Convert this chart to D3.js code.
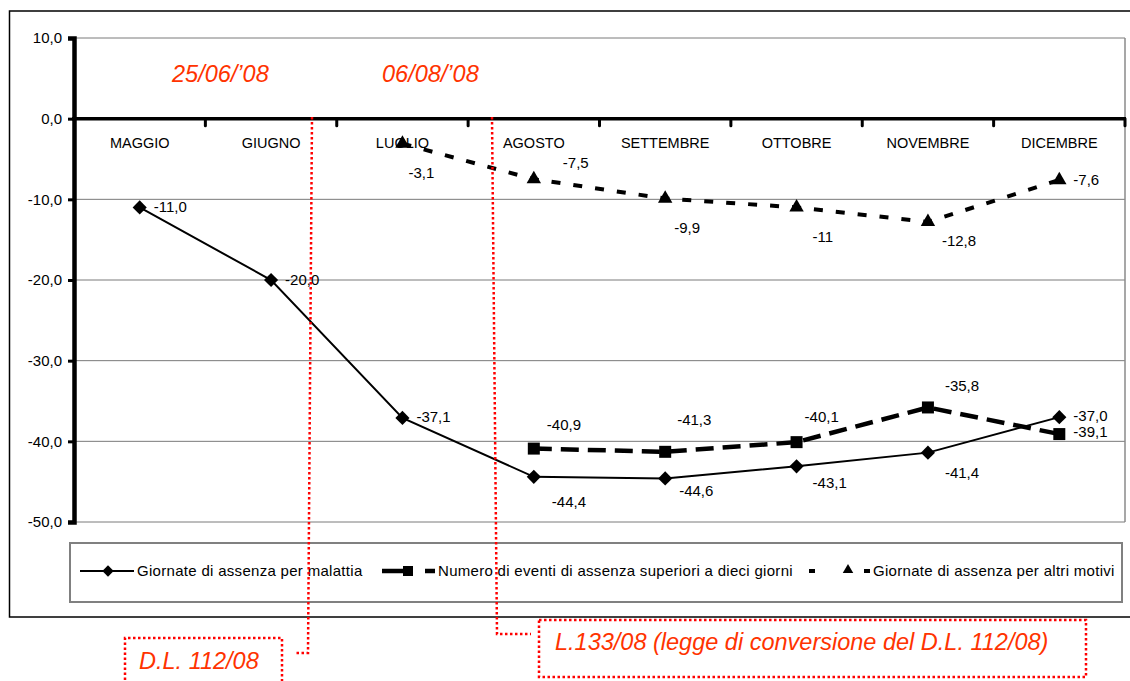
<!DOCTYPE html>
<html>
<head>
<meta charset="utf-8">
<script src="https://cdn.jsdelivr.net/npm/d3@7"></script>
<style>
body { margin: 0; background: #fff; }
svg { display: block; font-family: "Liberation Sans", Arial, sans-serif; }
</style>
</head>
<body>
<script>
// Dati
const mesi = ["MAGGIO", "GIUGNO", "LUGLIO", "AGOSTO", "SETTEMBRE", "OTTOBRE", "NOVEMBRE", "DICEMBRE"];
const malattia = [-11.0, -20.0, -37.1, -44.4, -44.6, -43.1, -41.4, -37.0];
const eventi = [null, null, null, -40.9, -41.3, -40.1, -35.8, -39.1];
const altri = [null, null, -3.1, -7.5, -9.9, -11, -12.8, -7.6];
const yTicks = [10, 0, -10, -20, -30, -40, -50];
const nomi = ["Giornate di assenza per malattia",
              "Numero di eventi di assenza superiori a dieci giorni",
              "Giornate di assenza per altri motivi"];
const date = ["25/06/\u201908", "06/08/\u201908"];
const norme = ["D.L. 112/08", "L.133/08 (legge di conversione del D.L. 112/08)"];

// spostamento delle etichette rispetto al punto (dx, dy)
const offMal = [[14, -1], [14, 0], [14, -1], [18, 25], [14, 12], [16, 16], [17, 20], [14, -1]];
const offEve = [null, null, null, [13, -24], [12, -32], [8, -25], [17, -22], [14, -2]];
const offAlt = [null, null, [6, 29], [29, -16], [9, 29], [16, 29], [14, 19], [14, 0]];

const W = 1130, H = 681;
const it = d3.formatLocale({decimal: ",", thousands: ".", grouping: [3], currency: ["", "€"], minus: "-"});
const f1 = it.format(".1f"), fTrim = it.format(".1~f");

const svg = d3.select("body").append("svg").attr("width", W).attr("height", H);

const x = d3.scaleBand().domain(mesi).range([74, 1125]);
const y = d3.scaleLinear().domain([-50, 10]).range([522, 38]);
const cx = i => x(mesi[i]) + x.bandwidth() / 2;

// cornice esterna
svg.append("rect").attr("x", 9.5).attr("y", 11).attr("width", 1130).attr("height", 606)
    .attr("fill", "none").attr("stroke", "#000").attr("stroke-width", 1.5);

// griglia
svg.append("g").selectAll("line").data(yTicks.filter(t => t !== 0)).join("line")
    .attr("x1", 74).attr("x2", 1125).attr("y1", d => y(d)).attr("y2", d => y(d))
    .attr("stroke", "#7a7a7a").attr("stroke-width", 1);
svg.append("line").attr("x1", 1125).attr("x2", 1125).attr("y1", y(10)).attr("y2", y(-50))
    .attr("stroke", "#8a8a8a").attr("stroke-width", 1.5);

// asse y
const yAxis = svg.append("g").attr("transform", "translate(74,0)")
    .call(d3.axisLeft(y).tickValues(yTicks).tickSize(6).tickPadding(6).tickFormat(f1));
yAxis.select(".domain").attr("stroke-width", 4.5);
yAxis.selectAll(".tick line").attr("stroke-width", 3);
yAxis.selectAll("text").attr("font-size", 15).attr("fill", "#000")
    .attr("font-family", "'Liberation Sans', Arial, sans-serif");

// asse x sullo zero
svg.append("line").attr("x1", 72).attr("x2", 1126).attr("y1", y(0)).attr("y2", y(0))
    .attr("stroke", "#000").attr("stroke-width", 3.5);
svg.append("g").selectAll("line").data(mesi).join("line")
    .attr("x1", d => x(d) + x.bandwidth()).attr("x2", d => x(d) + x.bandwidth())
    .attr("y1", y(0)).attr("y2", y(0) + 7)
    .attr("stroke", "#000").attr("stroke-width", 3).attr("stroke-linecap", "round");
svg.append("g").selectAll("text").data(mesi).join("text")
    .attr("x", d => x(d) + x.bandwidth() / 2).attr("y", y(0) + 29)
    .attr("text-anchor", "middle").attr("font-size", 14.5).text(d => d);

// linee delle serie
const line = d3.line().defined(d => d[1] != null).x(d => cx(d[0])).y(d => y(d[1]));
const pairs = arr => arr.map((v, i) => [i, v]);

svg.append("path").attr("d", line(pairs(malattia)))
    .attr("fill", "none").attr("stroke", "#000").attr("stroke-width", 2);
svg.append("path").attr("d", line(pairs(eventi)))
    .attr("fill", "none").attr("stroke", "#000").attr("stroke-width", 4.5)
    .attr("stroke-dasharray", "18,9");
svg.append("path").attr("d", line(pairs(altri)))
    .attr("fill", "none").attr("stroke", "#000").attr("stroke-width", 4)
    .attr("stroke-dasharray", "9,13");

// marcatori
const diamond = d3.symbol().type(d3.symbolSquare).size(100)();
const square = d3.symbol().type(d3.symbolSquare).size(144)();
const triangle = d3.symbol().type(d3.symbolTriangle).size(90)();

function markers(arr, path, rot) {
    svg.append("g").selectAll("path").data(pairs(arr).filter(d => d[1] != null)).join("path")
        .attr("d", path)
        .attr("transform", d => `translate(${cx(d[0])},${y(d[1])}) rotate(${rot})`)
        .attr("fill", "#000");
}
markers(malattia, diamond, 45);
markers(eventi, square, 0);
markers(altri, triangle, 0);

// etichette dei valori
function labels(arr, off, fmt) {
    svg.append("g").selectAll("text").data(pairs(arr).filter(d => d[1] != null)).join("text")
        .attr("x", d => cx(d[0]) + off[d[0]][0])
        .attr("y", d => y(d[1]) + off[d[0]][1])
        .attr("dy", "0.35em").attr("font-size", 15).text(d => fmt(d[1]));
}
labels(malattia, offMal, f1);
labels(eventi, offEve, f1);
labels(altri, offAlt, fTrim);

// legenda
svg.append("rect").attr("x", 70).attr("y", 543).attr("width", 1052).attr("height", 59)
    .attr("fill", "none").attr("stroke", "#808080").attr("stroke-width", 2);
const ly = 571;
const leg = svg.append("g");
leg.append("line").attr("x1", 80).attr("x2", 134).attr("y1", ly).attr("y2", ly)
    .attr("stroke", "#000").attr("stroke-width", 2);
leg.append("path").attr("d", d3.symbol().type(d3.symbolSquare).size(64)())
    .attr("transform", `translate(108,${ly}) rotate(45)`);
leg.append("line").attr("x1", 382).attr("x2", 435).attr("y1", ly).attr("y2", ly)
    .attr("stroke", "#000").attr("stroke-width", 4.5).attr("stroke-dasharray", "26,17");
leg.append("path").attr("d", d3.symbol().type(d3.symbolSquare).size(100)())
    .attr("transform", `translate(408,${ly})`);
leg.append("line").attr("x1", 809).attr("x2", 870).attr("y1", ly).attr("y2", ly)
    .attr("stroke", "#000").attr("stroke-width", 4).attr("stroke-dasharray", "6,49,6");
leg.append("path").attr("d", d3.symbol().type(d3.symbolTriangle).size(48)())
    .attr("transform", `translate(848,${ly - 1})`);
leg.selectAll("text").data(nomi).join("text")
    .attr("x", (d, i) => [137, 438, 873][i]).attr("y", ly).attr("dy", "0.35em")
    .attr("font-size", 15).attr("letter-spacing", 0.3).text(d => d);

// richiami in rosso
const red = "#ff0000", orange = "#ff3300";
const dotted = g => g.attr("fill", "none").attr("stroke", red).attr("stroke-width", 2.5)
    .attr("stroke-dasharray", "2.5,2.5");
svg.append("path").attr("d", "M312,117 L308,653 L294,653").call(dotted);
svg.append("path").attr("d", "M492,117 L497,634 L531,634").call(dotted);
svg.append("path").attr("d", "M125,690 V638 H282 V690").call(dotted);
svg.append("rect").attr("x", 539).attr("y", 620).attr("width", 547).attr("height", 57).call(dotted);

svg.append("g").selectAll("text").data(date).join("text")
    .attr("x", (d, i) => [172, 382][i]).attr("y", 82)
    .attr("font-size", 23.5).attr("font-style", "italic").attr("fill", orange).text(d => d);
svg.append("g").selectAll("text").data(norme).join("text")
    .attr("x", (d, i) => [139, 555][i]).attr("y", (d, i) => [669, 650][i])
    .attr("font-size", 23.5).attr("font-style", "italic").attr("fill", orange).text(d => d);
</script>
</body>
</html>
